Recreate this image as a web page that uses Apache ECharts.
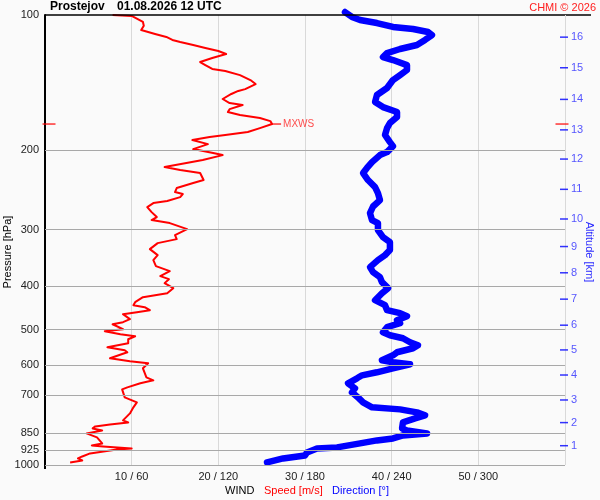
<!DOCTYPE html>
<html><head><meta charset="utf-8">
<script src="https://cdn.jsdelivr.net/npm/echarts@6/dist/echarts.min.js"></script>
<style>html,body{margin:0;padding:0;background:#fafafa}#c{width:600px;height:500px}</style>
</head><body><div id="c"></div>
<script>
// Wind speed profile [m/s] vs pressure [hPa]
const speedValues = [7.8,10.0,11.3,11.4,11.1,11.2,12.7,14.0,14.7,15.6,17.1,18.5,20.0,20.9,19.3,17.9,18.5,19.3,20.8,22.5,23.7,24.3,23.1,22.3,21.5,20.5,21.3,22.8,21.3,21.1,22.5,24.8,26.0,26.2,24.8,23.4,20.8,19.0,17.0,18.8,17.1,19.4,20.5,18.2,13.8,15.6,17.9,18.3,17.1,15.2,15.0,15.9,15.6,14.1,12.5,11.8,12.3,12.9,12.3,14.4,16.4,15.0,15.2,13.0,12.1,13.0,12.5,12.8,14.4,13.3,14.3,13.8,14.8,14.1,11.3,10.4,10.2,11.5,12.1,10.6,9.0,9.8,9.0,7.8,9.0,6.9,8.7,10.4,9.6,9.6,7.2,9.2,9.5,7.5,9.8,11.9,11.3,11.7,12.5,11.0,9.5,8.9,9.2,10.6,10.2,9.8,9.0,9.6,7.5,5.8,5.5,6.6,4.8,6.0,6.6,5.4,6.7,10.0,8.3,5.2,4.3,3.8,4.3,2.9];
const speedPressure = [100,100.5,103.6,105.7,108.0,109.1,110.2,111.9,113.6,114.8,116.6,118.4,120.2,122.1,124.6,127.2,129.2,131.8,133.2,136.0,139.5,142.4,146.1,147.5,149.8,153.7,156.9,158.5,161.9,164.3,166.8,169.4,172.1,174.7,178.4,182.0,184.8,186.7,189.6,193.6,198.6,202.7,204.8,210.1,217.7,221.1,224.5,232.7,236.3,242.4,247.4,250.0,253.9,259.1,261.8,267.3,274.2,281.2,285.6,290.0,299.1,308.4,314.8,321.3,331.3,341.7,350.6,361.5,370.9,380.5,386.4,394.3,404.6,415.1,423.7,434.7,441.4,446.0,452.9,457.5,462.2,474.2,481.5,486.6,499.2,504.4,512.2,517.5,525.5,536.4,547.5,556.0,561.7,579.3,588.2,594.2,609.7,638.6,648.4,658.3,672.1,679.0,707.6,725.9,744.6,767.9,795.9,804.1,812.4,820.8,829.2,837.8,850.8,868.4,895.4,904.7,909.3,918.7,923.4,942.5,957.2,967.1,977.0,987.1];
// Wind direction profile [deg] vs pressure [hPa]
const dirValues = [207.7,212.5,218.1,229.8,240.9,254.8,265.2,267.9,263.1,257.5,245.8,236.8,234.0,240.9,250.6,250.6,245.8,240.9,236.8,229.8,228.5,234.0,243.7,243.7,238.8,236.8,235.4,238.8,240.9,236.8,231.9,226.4,222.9,220.2,223.6,228.5,230.5,231.9,227.1,225.0,226.4,230.5,230.5,234.0,238.8,238.8,235.4,230.5,225.0,227.1,231.9,233.3,237.5,233.3,228.5,235.4,236.8,245.8,250.6,243.7,245.8,236.8,234.0,238.8,247.8,252.7,258.2,254.8,243.7,240.9,233.3,240.9,252.7,240.9,229.8,219.5,216.0,209.8,214.6,212.5,216.7,220.2,226.4,245.8,257.5,263.1,256.2,247.8,247.2,250.6,264.5,247.8,240.9,229.8,218.1,202.2,188.3,181.4,180.0,164.8,153.7];
const dirPressure = [98.5,101.0,102.6,104.2,106.3,107.4,109.1,110.8,113.6,116.6,119.0,121.5,124.0,125.9,129.2,132.5,136.0,139.5,145.3,150.6,156.1,160.2,164.3,168.6,173.8,178.4,184.8,191.6,195.6,201.7,204.8,212.3,218.7,224.5,232.7,241.2,248.7,257.8,266.4,275.6,285.6,290.0,300.6,311.6,319.7,333.0,341.7,350.6,363.3,372.8,382.5,392.4,404.6,415.1,430.3,441.4,452.9,459.9,467.1,476.7,484.1,494.1,506.9,514.8,522.8,533.6,541.9,550.3,561.7,570.4,585.2,591.2,597.3,609.7,622.3,632.0,641.8,658.3,675.5,689.5,707.6,725.9,744.6,752.3,764.0,775.8,787.8,804.1,829.2,837.8,850.8,859.5,872.9,881.8,895.4,913.9,918.7,937.7,952.3,967.1,987.1];
// Axis ticks
const pressureTicks = [100,200,300,400,500,600,700,850,925,1000];
const speedTicks = [10,20,30,40,50];
const speedTickLabels = ['10 / 60','20 / 120','30 / 180','40 / 240','50 / 300'];
const altitudeKm = ['1','2','3','4','5','6','7','8','9','10','11','12','13','14','15','16'];
const altitudePressure = [906,805,717,631,555,489,428,374,327,284,244,209,180,154,131,112];
// Max wind
const mxwsSpeed = 26.2;
const mxwsPressure = 174.7;

const FF = 'Liberation Sans, Arial, Helvetica, sans-serif';
const chart = echarts.init(document.getElementById('c'), null, {renderer:'canvas'});

const altData = altitudePressure.map((p,i)=>({value:[60,p], name:altitudeKm[i]}));

chart.setOption({
  backgroundColor:'#fafafa',
  animation:false,
  textStyle:{fontFamily:FF},
  title:[
    {text:'Prostejov', left:50, top:1, padding:0, textStyle:{fontSize:12, fontWeight:'bold', color:'#000', fontFamily:FF}},
    {text:'01.08.2026 12 UTC', left:117, top:1, padding:0, textStyle:{fontSize:12, fontWeight:'bold', color:'#000', fontFamily:FF}},
    {text:'CHMI © 2026', right:4, top:2, padding:0, textStyle:{fontSize:11, fontWeight:'normal', color:'#ff2020', fontFamily:FF}},
    {text:'WIND', left:225, top:485, padding:0, textStyle:{fontSize:11, fontWeight:'normal', color:'#000', fontFamily:FF}},
    {text:'Speed [m/s]', left:264, top:485, padding:0, textStyle:{fontSize:11, fontWeight:'normal', color:'#ff0000', fontFamily:FF}},
    {text:'Direction [°]', left:332, top:485, padding:0, textStyle:{fontSize:11, fontWeight:'normal', color:'#0000ff', fontFamily:FF}}
  ],
  grid:{left:45, right:35, top:15, bottom:35, containLabel:false},
  xAxis:[
    {type:'value', min:0, max:60, interval:10, position:'bottom',
     axisLine:{show:false}, axisTick:{show:false},
     splitLine:{show:true, lineStyle:{color:'#d9d9d9', width:1}},
     axisLabel:{margin:6, fontSize:11, color:'#222', fontFamily:FF,
       formatter:v=>{const i=speedTicks.indexOf(v); return i<0?'':speedTickLabels[i];}}},
    {type:'value', min:0, max:360, show:false}
  ],
  yAxis:[
    {type:'log', logBase:10, min:100, max:1000, inverse:true,
     axisLine:{show:true, lineStyle:{color:'#000', width:2}},
     axisTick:{show:false}, axisLabel:{show:false}, splitLine:{show:false}, minorTick:{show:false}}
  ],
  graphic:[
    {type:'text', x:8, y:252, rotation:Math.PI/2,
     style:{text:'Pressure [hPa]', fontSize:11, fill:'#000', align:'center', verticalAlign:'middle', fontFamily:FF}},
    {type:'text', x:589, y:252, rotation:-Math.PI/2,
     style:{text:'Altitude [km]', fontSize:11, fill:'#2a2aff', align:'center', verticalAlign:'middle', fontFamily:FF}},
    {type:'line', shape:{x1:565, y1:15, x2:591, y2:15}, style:{stroke:'#000', lineWidth:1.5}},
    {type:'line', shape:{x1:45, y1:464, x2:45, y2:469}, style:{stroke:'#000', lineWidth:2}}
  ],
  series:[
    {
      name:'altitude', type:'scatter', xAxisIndex:0, yAxisIndex:0, z:1, clip:false, silent:true,
      data:altData,
      symbol:'rect', symbolSize:[8,1.5], symbolOffset:[-1,0],
      itemStyle:{color:'#0000ff'},
      label:{show:true, position:'right', distance:3, formatter:'{b}', fontSize:11, color:'#2a2aff', fontFamily:FF},
      markLine:{
        silent:true, symbol:['none','none'], animation:false,
        label:{show:true, position:'start', distance:6, fontSize:11, color:'#222', fontFamily:FF},
        data:pressureTicks.map(p=>({yAxis:p,
          lineStyle:{type:'solid', color:p===100?'#000':'#a8a8a8', width:p===100?1.5:1},
          label:{formatter:String(p)}}))
      }
    },
    {
      name:'Direction', type:'line', xAxisIndex:1, yAxisIndex:0, z:3, clip:false,
      showSymbol:false, symbol:'none', smooth:false,
      data:dirValues.map((d,i)=>[d, dirPressure[i]]),
      lineStyle:{color:'#0000ff', width:6.5, cap:'round', join:'round'}
    },
    {
      name:'Speed', type:'line', xAxisIndex:0, yAxisIndex:0, z:4, clip:false,
      showSymbol:false, symbol:'none', smooth:false,
      data:speedValues.map((s,i)=>[s, speedPressure[i]]),
      lineStyle:{color:'#ff0000', width:2, join:'round'}
    },
    {
      name:'MXWS', type:'scatter', xAxisIndex:0, yAxisIndex:0, z:5, clip:false, silent:true,
      itemStyle:{color:'#ff0000'},
      data:[
        {value:[0, mxwsPressure], symbol:'rect', symbolSize:[13,1.5], symbolOffset:[4,0], label:{show:false}},
        {value:[60, mxwsPressure], symbol:'rect', symbolSize:[13,1.5], symbolOffset:[-3,0], label:{show:false}},
        {value:[mxwsSpeed, mxwsPressure], symbol:'rect', symbolSize:[9,1.5], symbolOffset:[4.5,0],
         label:{show:true, position:'right', distance:2, formatter:'MXWS', fontSize:10, color:'#ff2020', fontFamily:FF}}
      ]
    }
  ]
});
</script>
</body></html>
